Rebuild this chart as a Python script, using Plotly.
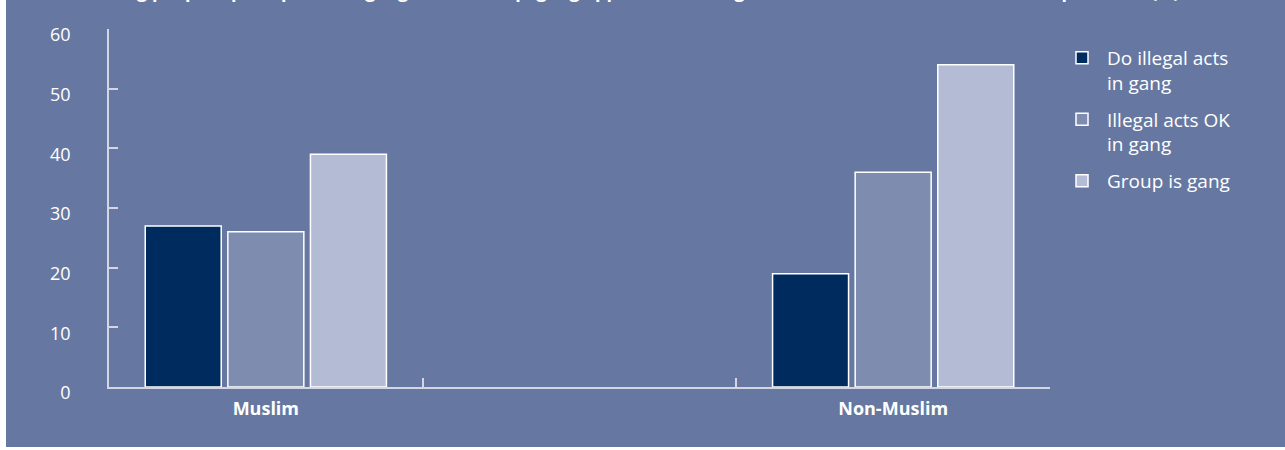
import plotly.graph_objects as go

# ---- data ----
categories = ["Muslim", "Non-Muslim"]
axis_categories = ["Muslim", " ", "Non-Muslim"]
series_names = ["Do illegal acts<br>in gang", "Illegal acts OK<br>in gang", "Group is gang"]
do_illegal_acts = [27, 19]
illegal_acts_ok = [26, 36]
group_is_gang = [39, 54]
y_tick_values = [0, 10, 20, 30, 40, 50, 60]
title_text = "Young people's perceptions of gang membership, gang approval and illegal acts, Muslim and non-Muslim respondents (%)"

series_values = [do_illegal_acts, illegal_acts_ok, group_is_gang]
series_colors = ["#002b5e", "#7e8cb0", "#b4bcd5"]

BG = "#6678a1"
AXIS = "#d3d7e3"
FONT = "Open Sans"

fig = go.Figure()
for i, (name, vals, col) in enumerate(zip(series_names, series_values, series_colors)):
    fig.add_trace(go.Bar(
        x=categories, y=vals, name=name, legendgroup=f"g{i}",
        marker=dict(color=col, line=dict(color="#ffffff", width=1.5)),
    ))

fig.update_layout(
    width=1285, height=450,
    margin=dict(l=109, r=235, t=29, b=63),
    paper_bgcolor=BG, plot_bgcolor=BG,
    barmode="group", bargap=0.21, bargroupgap=0.08,
    font=dict(family=FONT, color="#ffffff", size=16),
    showlegend=True,
    legend=dict(
        x=(1057 - 109) / 941, y=0.972, xanchor="left", yanchor="top",
        font=dict(family=FONT, size=19, color="#ffffff"),
        bgcolor="rgba(0,0,0,0)", itemwidth=40, valign="top",
        tracegroupgap=9,
    ),
    xaxis=dict(
        type="category", categoryorder="array", categoryarray=axis_categories,
        range=[-0.5, 2.5],
        showline=True, linecolor=AXIS, linewidth=1.5,
        ticks="inside", tickson="boundaries", ticklen=9, tickcolor=AXIS, tickwidth=1.5,
        tickfont=dict(family=FONT, size=18, color="#ffffff", weight="bold"),
        ticklabelstandoff=5,
        showgrid=False, zeroline=False,
    ),
    yaxis=dict(
        range=[0, 60], tickvals=y_tick_values,
        showline=True, linecolor=AXIS, linewidth=1.5,
        ticks="inside", ticklen=9, tickcolor=AXIS, tickwidth=1.5,
        tickfont=dict(family=FONT, size=18, color="#ffffff"),
        ticklabelstandoff=33, ticklabelshift=6,
        showgrid=False, zeroline=False,
    ),
    shapes=[
        dict(type="rect", xref="paper", yref="paper", x0=-0.2, x1=(6 - 109) / 941, y0=-0.3, y1=1.3,
             fillcolor="#ffffff", line=dict(width=0), layer="above"),
        dict(type="rect", xref="paper", yref="paper", x0=-0.2, x1=1.3, y0=-0.3, y1=(387 - 447) / 358,
             fillcolor="#ffffff", line=dict(width=0), layer="above"),
    ],
    annotations=[
        dict(text="<b>" + title_text + "</b>", xref="paper", yref="paper",
             x=(635 - 109) / 941, y=(387 - 5) / 358, xanchor="center", yanchor="bottom",
             showarrow=False, font=dict(family=FONT, size=18, color="#ffffff")),
    ],
)

fig.write_html("out.html", config={"displayModeBar": False},
               post_script="document.body.style.margin='0';")
